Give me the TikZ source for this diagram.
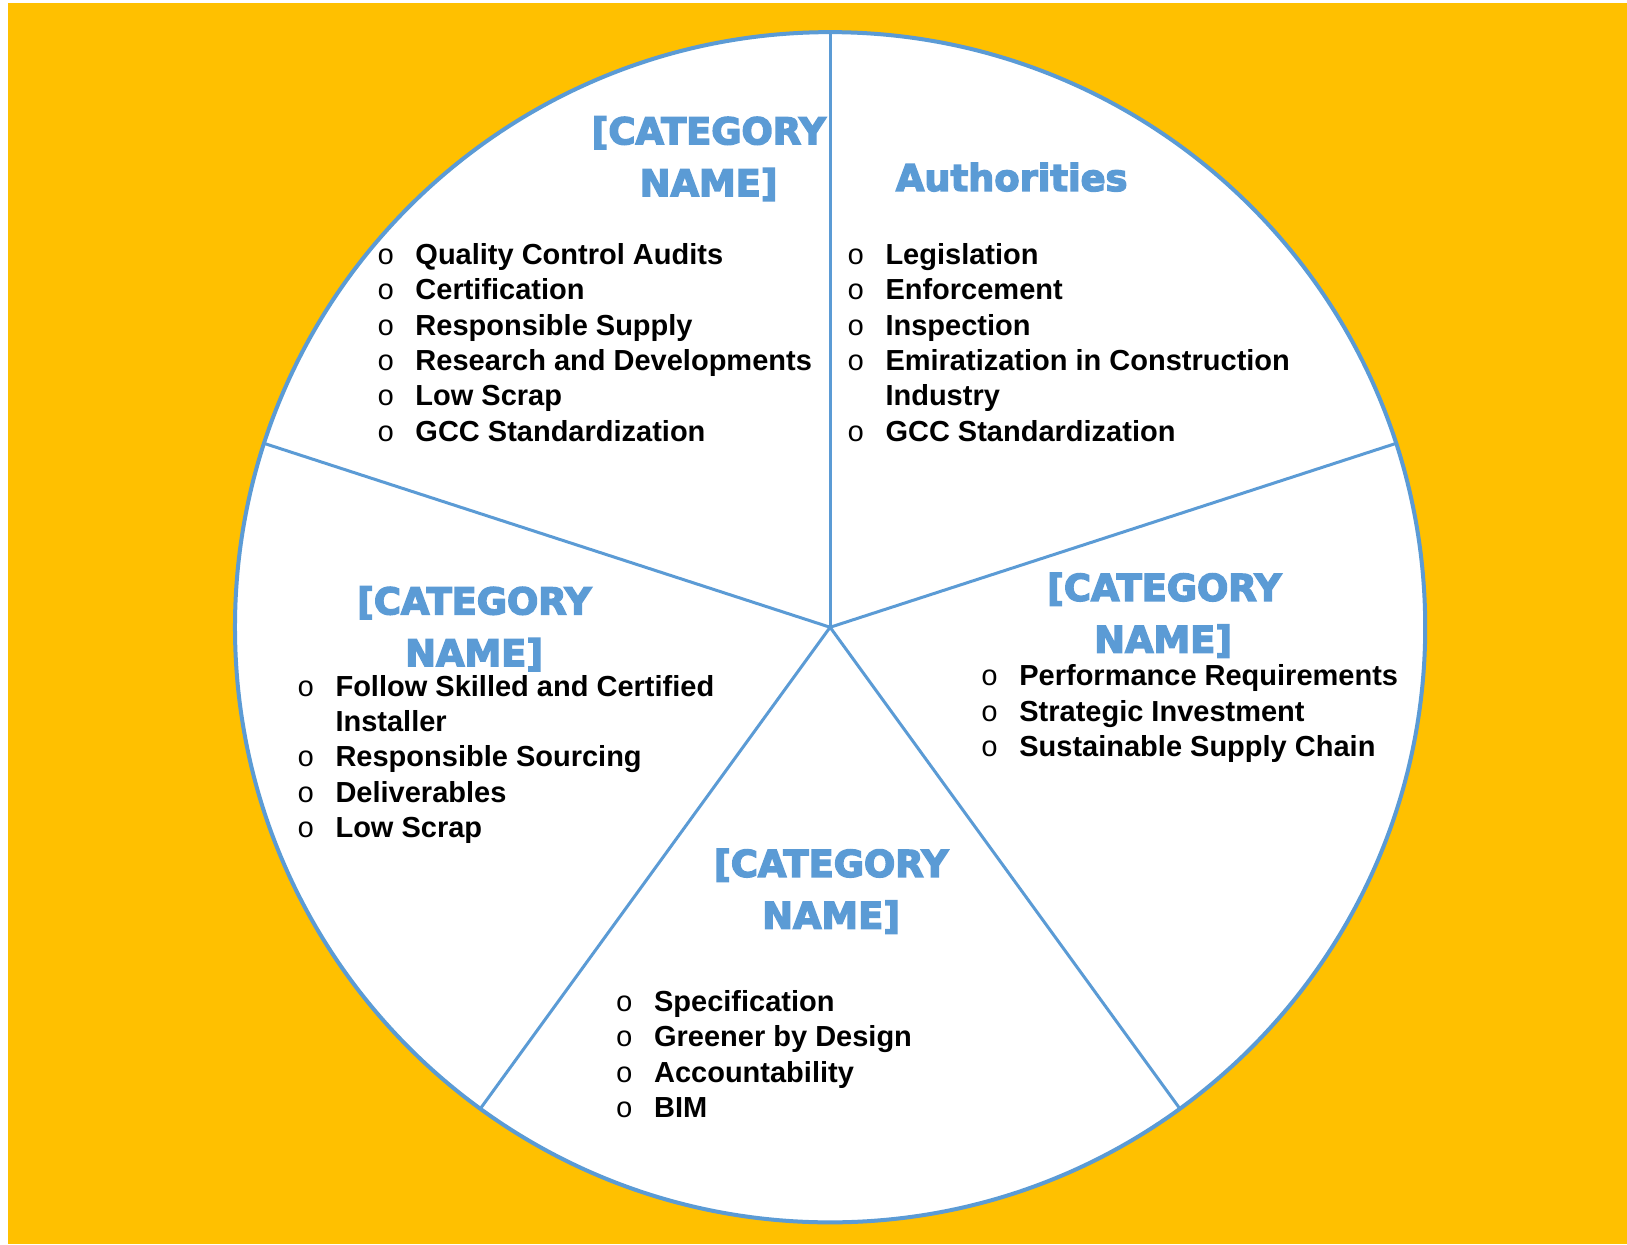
\documentclass[tikz,border=0pt]{standalone}
\usepackage{fontspec}
\setmainfont{Liberation Sans}
\newfontfamily\catfont{DejaVu Sans}[UprightFont={* Bold}, UprightFeatures={FakeBold=4}]
\newfontfamily\bulfont{Liberation Mono}
\definecolor{catblue}{HTML}{5B9BD5}
\definecolor{bgorange}{HTML}{FFC000}
\tikzset{
  cat/.style={font=\catfont\fontsize{18.4}{26}\selectfont, text=catblue, anchor=base, inner sep=0pt},
  item/.style={font=\bfseries\fontsize{14.5}{17.6}\selectfont, anchor=base west, inner sep=0pt},
  bul/.style={font=\bulfont\fontsize{14.5}{17.6}\selectfont, anchor=base west, inner sep=0pt},
  spoke/.style={draw=catblue, line width=1.5pt},
}
\begin{document}
\begin{tikzpicture}[x=0.5188pt, y=-0.5188pt]
\useasboundingbox (0,0) rectangle (1568,1199);
\fill[white] (0,0) rectangle (1568,1199);
\fill[bgorange] (7.7,2.9) rectangle (1568,1199);
\node[circle, draw=catblue, fill=white, line width=2pt, minimum size=595.1pt, inner sep=0pt, outer sep=0pt] (pie) at (800,604.5) {};
\coordinate (ctr) at (800,604.5);
\draw[spoke] (ctr) -- (pie.90);
\draw[spoke] (ctr) -- (pie.18);
\draw[spoke] (ctr) -- (pie.-54);
\draw[spoke] (ctr) -- (pie.-126);
\draw[spoke] (ctr) -- (pie.162);
% category titles
\node[cat] (tlA) at (683,139) {[CATEGORY};
\node[cat] (tlB) at (683,189) {NAME]};
\node[cat] (trA) at (975,184) {Authorities};
\node[cat] (rA) at (1122,579) {[CATEGORY};
\node[cat] (rB) at (1121,629) {NAME]};
\node[cat] (lA) at (457,592) {[CATEGORY};
\node[cat] (lB) at (457,642) {NAME]};
\node[cat] (bA) at (801,845) {[CATEGORY};
\node[cat] (bB) at (801,895) {NAME]};
% top-left list
\foreach \t [count=\i] in {Quality Control Audits, Certification, Responsible Supply, Research and Developments, Low Scrap, GCC Standardization}{
  \node[bul] (tlb\i) at (363,{255+34*(\i-1)}) {o};
  \node[item] (tli\i) at (400,{255+34*(\i-1)}) {\t};
}
% top-right list
\foreach \t/\y [count=\i] in {Legislation/255, Enforcement/289, Inspection/323, Emiratization in Construction/357, GCC Standardization/425}{
  \node[bul] (trb\i) at (816,\y) {o};
  \node[item] (tri\i) at (853,\y) {\t};
}
\node[item] (tri4b) at (853,391) {Industry};
% right list
\foreach \t [count=\i] in {Performance Requirements, Strategic Investment, Sustainable Supply Chain}{
  \node[bul] (rb\i) at (945,{661+34*(\i-1)}) {o};
  \node[item] (ri\i) at (982,{661+34*(\i-1)}) {\t};
}
% left list
\foreach \t/\y [count=\i] in {Follow Skilled and Certified/671, Responsible Sourcing/739, Deliverables/773, Low Scrap/807}{
  \node[bul] (lb\i) at (286,\y) {o};
  \node[item] (li\i) at (323,\y) {\t};
}
\node[item] (li1b) at (323,705) {Installer};
% bottom list
\foreach \t [count=\i] in {Specification, Greener by Design, Accountability, BIM}{
  \node[bul] (bb\i) at (593,{975+34*(\i-1)}) {o};
  \node[item] (bi\i) at (630,{975+34*(\i-1)}) {\t};
}
\end{tikzpicture}
\end{document}
